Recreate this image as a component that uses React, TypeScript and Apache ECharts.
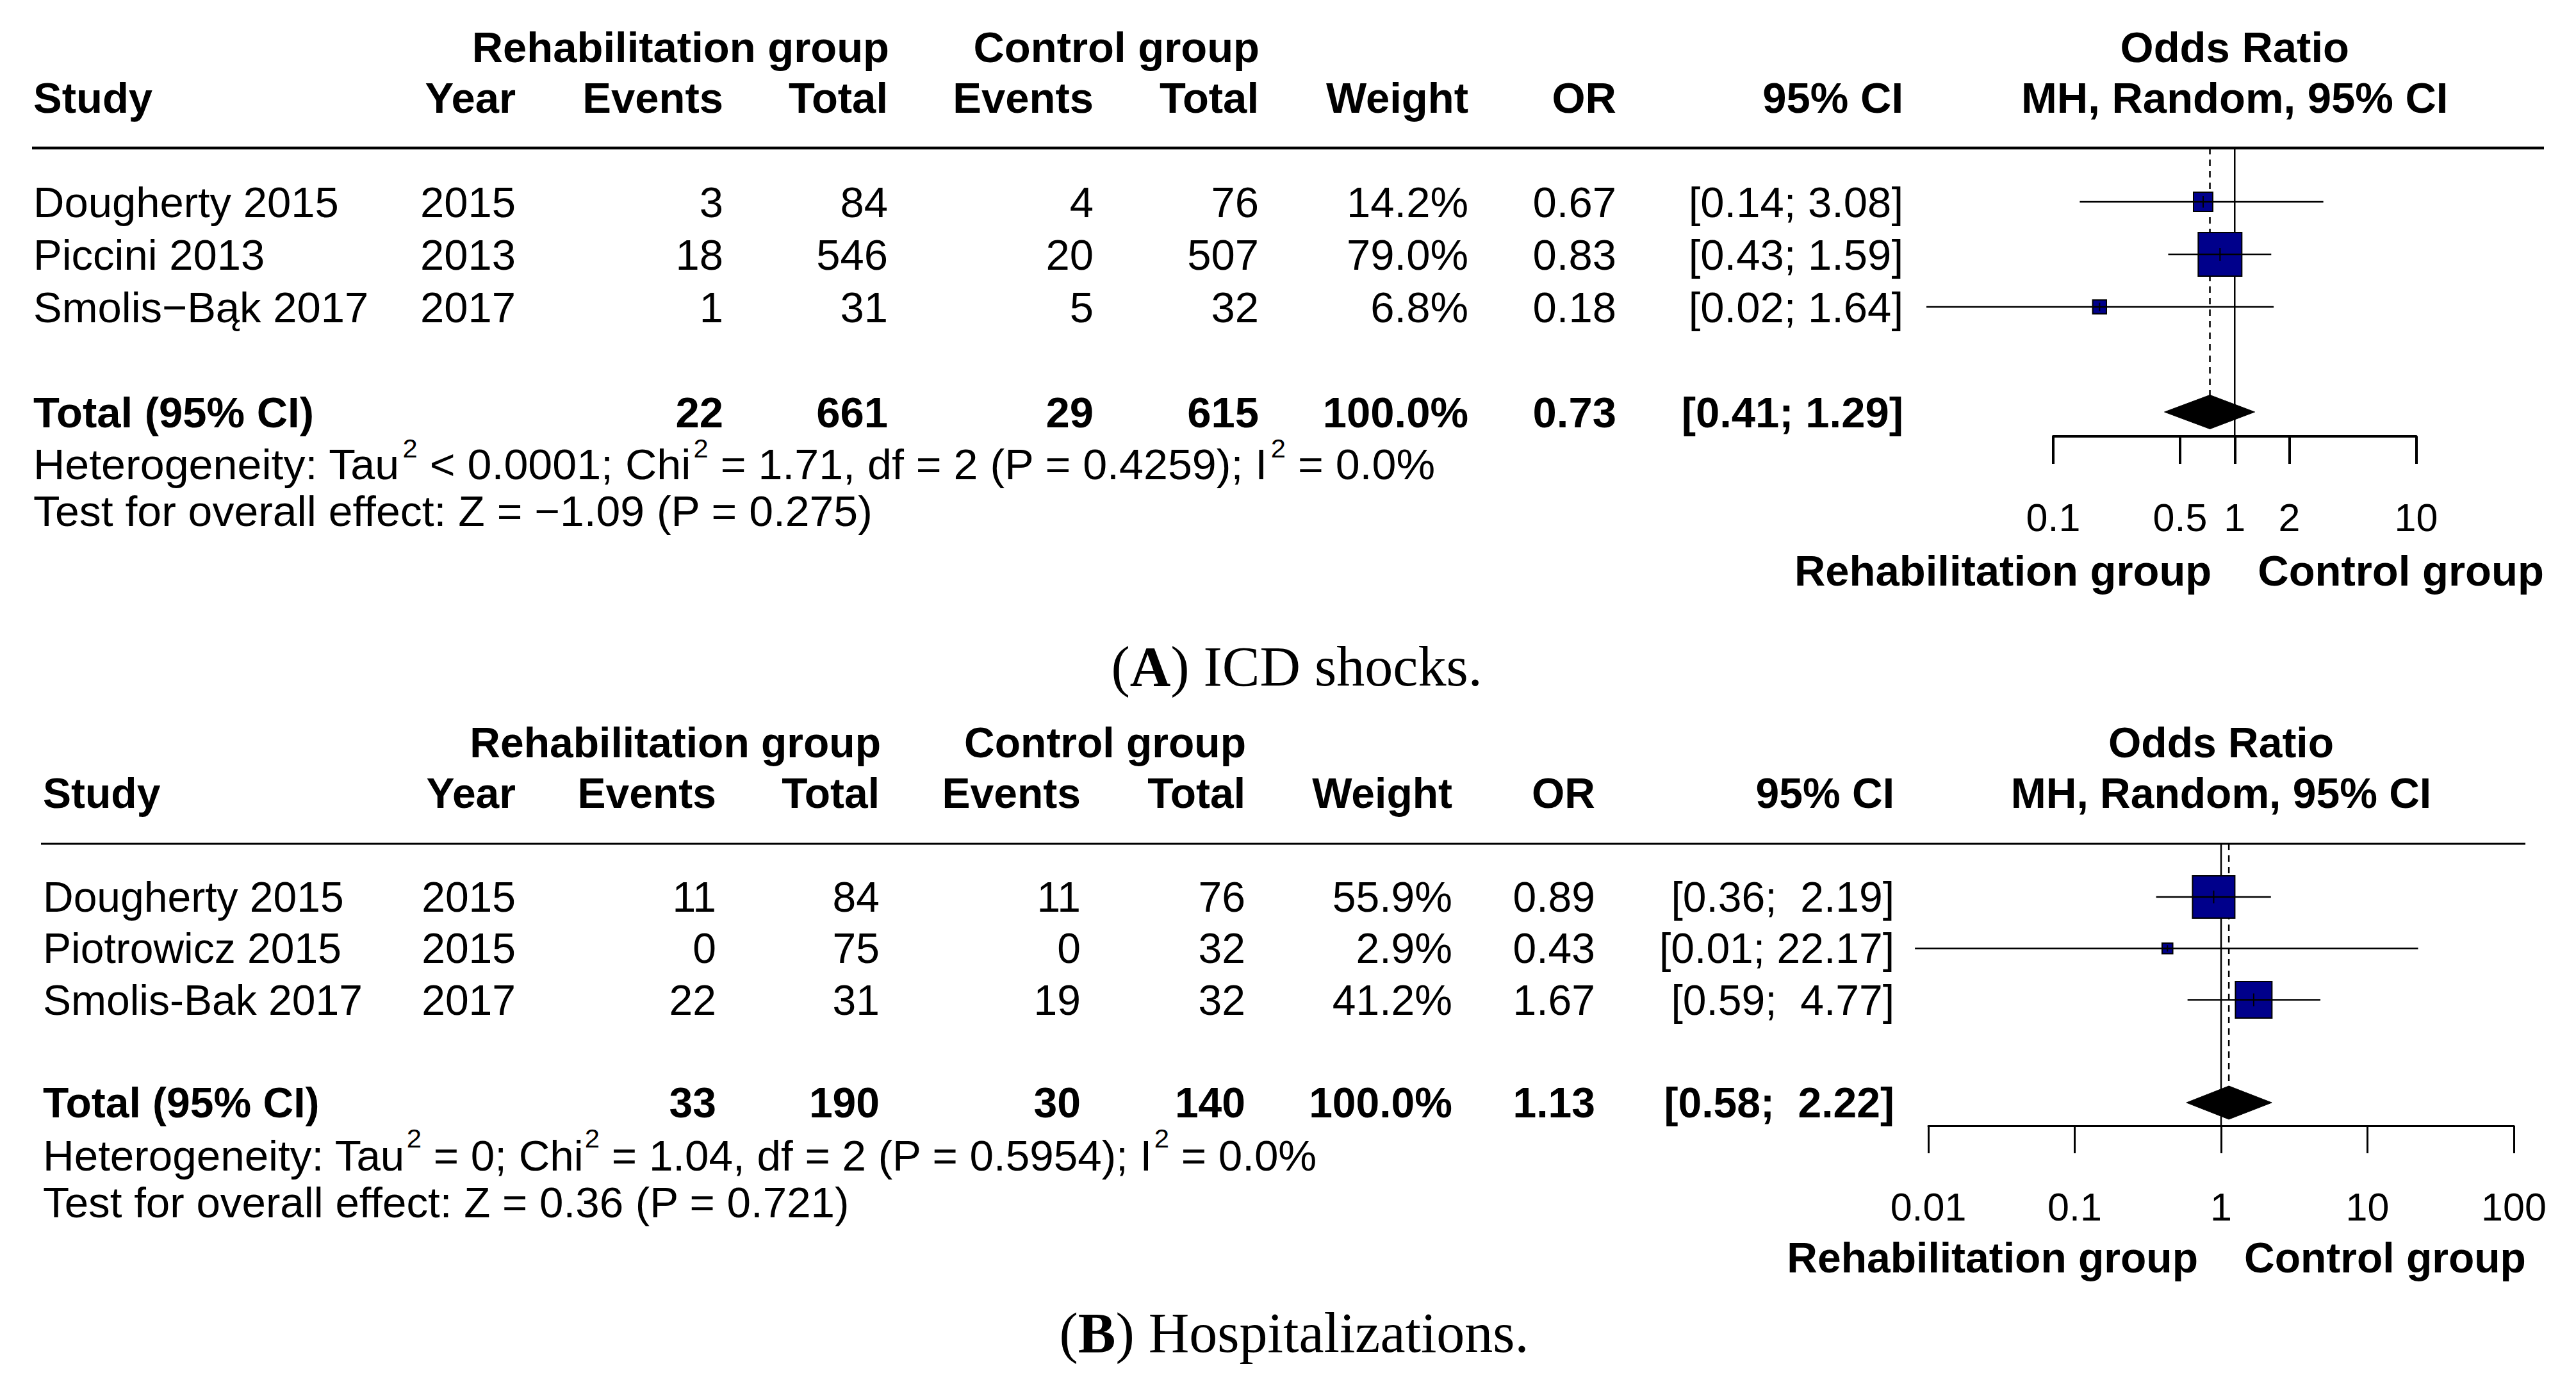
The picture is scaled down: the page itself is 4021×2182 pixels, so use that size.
import React, { useEffect, useRef } from "react";
import * as echarts from "echarts";

const W = 4021;
const H = 2182;
const SANS = "'Liberation Sans', Arial, Helvetica, sans-serif";
const SERIF = "'Liberation Serif', 'Times New Roman', serif";

// ---------------- Panel A: ICD shocks ----------------
const studiesA = ["Dougherty 2015", "Piccini 2013", "Smolis\u2212Bąk 2017"];
const yearsA = [2015, 2013, 2017];
const rehabEventsA = [3, 18, 1];
const rehabTotalA = [84, 546, 31];
const ctrlEventsA = [4, 20, 5];
const ctrlTotalA = [76, 507, 32];
const weightA = [14.2, 79.0, 6.8];
const orA = [0.67, 0.83, 0.18];
const ciLowA = [0.14, 0.43, 0.02];
const ciHighA = [3.08, 1.59, 1.64];
const totalsA = [22, 661, 29, 615];
const pooledA = [0.73, 0.41, 1.29];
const hetA = "Heterogeneity: Tau{s|2} < 0.0001; Chi{s|2} = 1.71, df = 2 (P = 0.4259); I{s|2} = 0.0%";
const testA = "Test for overall effect: Z = \u22121.09 (P = 0.275)";
const ticksA = [0.1, 0.5, 1, 2, 10];
const captionA = ["A", "ICD shocks."];

// ---------------- Panel B: Hospitalizations ----------------
const studiesB = ["Dougherty 2015", "Piotrowicz 2015", "Smolis-Bak 2017"];
const yearsB = [2015, 2015, 2017];
const rehabEventsB = [11, 0, 22];
const rehabTotalB = [84, 75, 31];
const ctrlEventsB = [11, 0, 19];
const ctrlTotalB = [76, 32, 32];
const weightB = [55.9, 2.9, 41.2];
const orB = [0.89, 0.43, 1.67];
const ciLowB = [0.36, 0.0081, 0.59];
const ciHighB = [2.19, 22.17, 4.77];
const totalsB = [33, 190, 30, 140];
const pooledB = [1.13, 0.58, 2.22];
const hetB = "Heterogeneity: Tau{s|2} = 0; Chi{s|2} = 1.04, df = 2 (P = 0.5954); I{s|2} = 0.0%";
const testB = "Test for overall effect: Z = 0.36 (P = 0.721)";
const ticksB = [0.01, 0.1, 1, 10, 100];
const captionB = ["B", "Hospitalizations."];

const headers = ["Year", "Events", "Total", "Events", "Total", "Weight", "OR", "95% CI"];
const ROW_POS = [1, 2, 3];
const TOTAL_POS = 5;

const dataA = {
  studies: studiesA, years: yearsA, re: rehabEventsA, rt: rehabTotalA, ce: ctrlEventsA, ct: ctrlTotalA,
  weight: weightA, or: orA, lo: ciLowA, hi: ciHighA, totals: totalsA, pooled: pooledA,
  het: hetA, test: testA, ticks: ticksA, caption: captionA,
};
const dataB = {
  studies: studiesB, years: yearsB, re: rehabEventsB, rt: rehabTotalB, ce: ctrlEventsB, ct: ctrlTotalB,
  weight: weightB, or: orB, lo: ciLowB, hi: ciHighB, totals: totalsB, pooled: pooledB,
  het: hetB, test: testB, ticks: ticksB, caption: captionB,
};

// ---------------- layout (pixels) ----------------
const layoutA = {
  font: 67, studyX: 52, col: [805, 1129, 1386, 1707, 1965, 2292, 2523, 2971],
  groupY: 73, headY: 152, rowY0: 315, totalY: 643, hetY: 725, testY: 798,
  ruleY: 231, ruleX1: 50, ruleX2: 3971, ruleW: 4.5,
  axisY: 681, plotX1: 3205, plotX2: 3771.5, axisW: 4, tickLabelY: 807, sideY: 890, sideGap: 36,
  captionX: 2024, captionY: 1040, boxMax: 66, diamondH: 53, supH: 30, supPad: 4, lineScale: 1.014,
  hetScale: 1.018,
};
const layoutB = {
  font: 66, studyX: 67, col: [805, 1118, 1373, 1687, 1944, 2267, 2490, 2957],
  groupY: 1159, headY: 1238, rowY0: 1400, totalY: 1721, hetY: 1804, testY: 1877,
  ruleY: 1317, ruleX1: 64, ruleX2: 3942, ruleW: 3,
  axisY: 1757, plotX1: 3010, plotX2: 3924, axisW: 3, tickLabelY: 1883, sideY: 1963, sideGap: 36,
  captionX: 2020, captionY: 2080, boxMax: 64, diamondH: 52, supH: 26, supPad: 2, lineScale: 1.02,
  hetScale: 1.021,
};

function txt(text: string, x: number, y: number, align: string, size: number, bold = false, extra: any = {}) {
  return {
    type: "text",
    x,
    y,
    scaleX: extra.scaleX || 1,
    silent: true,
    style: {
      text,
      fill: "#000",
      fontFamily: extra.family || SANS,
      fontSize: size,
      fontWeight: bold ? "bold" : "normal",
      align,
      verticalAlign: "middle",
      textAlign: align,
      textVerticalAlign: "middle",
      ...(extra.style || {}),
    },
  };
}

function fmtCI(lo: number, hi: number, hiWidth: number) {
  return "[" + lo.toFixed(2) + "; " + hi.toFixed(2).padStart(hiWidth, " ") + "]";
}

function buildPanel(idx: number, P: any, L: any) {
  const lmin = Math.log10(P.ticks[0]);
  const lmax = Math.log10(P.ticks[P.ticks.length - 1]);
  const step = (L.totalY - L.rowY0) / (TOTAL_POS - ROW_POS[0]);
  const yMin = ROW_POS[0] - (L.rowY0 - L.ruleY) / step;
  const yMax = TOTAL_POS + (L.axisY - L.totalY) / step;
  const refX = L.plotX1 + ((0 - lmin) / (lmax - lmin)) * (L.plotX2 - L.plotX1);
  const rowY = (p: number) => L.rowY0 + (p - ROW_POS[0]) * step;
  const F = L.font;

  const hiWidth = Math.max(...P.hi.map((v: number) => v.toFixed(2).length), P.pooled[2].toFixed(2).length);

  const g: any[] = [];
  // group headers
  g.push(txt("Rehabilitation group", L.col[2] + 2, L.groupY, "right", F, true));
  g.push(txt("Control group", L.col[4] + 1, L.groupY, "right", F, true));
  g.push(txt("Odds Ratio", refX, L.groupY, "center", F, true));
  // column headers
  g.push(txt("Study", L.studyX, L.headY, "left", F, true));
  headers.forEach((h, i) => g.push(txt(h, L.col[i], L.headY, "right", F, true)));
  g.push(txt("MH, Random, 95% CI", refX, L.headY, "center", F, true));
  // rule
  g.push({
    type: "line",
    silent: true,
    shape: { x1: L.ruleX1, y1: L.ruleY, x2: L.ruleX2, y2: L.ruleY },
    style: { stroke: "#000", lineWidth: L.ruleW },
  });
  // study rows
  P.studies.forEach((s: string, i: number) => {
    const y = rowY(ROW_POS[i]);
    const cells = [
      String(P.years[i]), String(P.re[i]), String(P.rt[i]), String(P.ce[i]), String(P.ct[i]),
      P.weight[i].toFixed(1) + "%", P.or[i].toFixed(2), fmtCI(P.lo[i], P.hi[i], hiWidth),
    ];
    g.push(txt(s, L.studyX, y, "left", F));
    cells.forEach((c, j) => g.push(txt(c, L.col[j], y, "right", F)));
  });
  // total row
  const ty = rowY(TOTAL_POS);
  g.push(txt("Total (95% CI)", L.studyX, ty, "left", F, true));
  const tcells = [
    String(P.totals[0]), String(P.totals[1]), String(P.totals[2]), String(P.totals[3]),
    "100.0%", P.pooled[0].toFixed(2), fmtCI(P.pooled[1], P.pooled[2], hiWidth),
  ];
  tcells.forEach((c, j) => g.push(txt(c, L.col[j + 1], ty, "right", F, true)));
  // heterogeneity & test
  g.push(
    txt(P.het, L.studyX, L.hetY, "left", F, false, {
      scaleX: L.hetScale,
      style: {
        lineHeight: 80,
        rich: {
          s: {
            fontFamily: SANS,
            fontSize: 41,
            fill: "#000",
            verticalAlign: "top",
            height: L.supH,
            lineHeight: L.supH,
            padding: [0, 0, 0, L.supPad],
          },
        },
      },
    })
  );
  g.push(txt(P.test, L.studyX, L.testY, "left", F, false, { scaleX: L.lineScale }));
  // side labels
  g.push(txt("Rehabilitation group", refX - L.sideGap, L.sideY, "right", F, true));
  g.push(txt("Control group", refX + L.sideGap, L.sideY, "left", F, true));
  // caption
  g.push(
    txt("(" + "{b|" + P.caption[0] + "}) " + P.caption[1], L.captionX, L.captionY, "center", 88, false, {
      family: SERIF,
      style: { rich: { b: { fontFamily: SERIF, fontSize: 88, fontWeight: "bold", fill: "#000" } } },
    })
  );

  const grid = {
    left: L.plotX1,
    top: L.ruleY,
    width: L.plotX2 - L.plotX1,
    height: L.axisY - L.ruleY,
    containLabel: false,
    outerBoundsMode: "none",
  };
  const tickLogs = P.ticks.map((t: number) => Math.log10(t));
  const xAxis = {
    gridIndex: idx,
    type: "value",
    position: "bottom",
    min: lmin,
    max: lmax,
    axisLine: { show: true, onZero: false, lineStyle: { color: "#000", width: L.axisW } },
    axisTick: { show: true, inside: false, length: 43, customValues: tickLogs, lineStyle: { color: "#000", width: L.axisW } },
    axisLabel: {
      show: true,
      customValues: tickLogs,
      margin: L.tickLabelY - L.axisY - 30,
      color: "#000",
      fontFamily: SANS,
      fontSize: 61,
      lineHeight: 61,
      formatter: (v: number) => String(parseFloat(Math.pow(10, v).toPrecision(3))),
    },
    splitLine: { show: false },
  };
  const yAxis = { gridIndex: idx, type: "value", inverse: true, min: yMin, max: yMax, show: false };

  const wmax = Math.max(...P.weight);
  const series = [
    {
      type: "custom",
      xAxisIndex: idx,
      yAxisIndex: idx,
      clip: false,
      z: 1,
      silent: true,
      data: [
        [0, yMin, yMax, 0],
        [Math.log10(P.pooled[0]), yMin, TOTAL_POS, 1],
      ],
      encode: { x: 0, y: 1 },
      renderItem: (params: any, api: any) => {
        const a = api.coord([api.value(0), api.value(1)]);
        const b = api.coord([api.value(0), api.value(2)]);
        const dashed = api.value(3) === 1;
        return {
          type: "line",
          shape: { x1: a[0], y1: a[1], x2: b[0], y2: b[1] },
          style: { stroke: "#000", lineWidth: 2.5, lineDash: dashed ? [10, 8] : undefined },
        };
      },
    },
    {
      type: "custom",
      xAxisIndex: idx,
      yAxisIndex: idx,
      clip: false,
      z: 2,
      silent: true,
      data: P.studies.map((_: string, i: number) => [
        Math.log10(P.or[i]), Math.log10(P.lo[i]), Math.log10(P.hi[i]), ROW_POS[i], P.weight[i],
      ]),
      encode: { x: 0, y: 3 },
      renderItem: (params: any, api: any) => {
        const row = api.value(3);
        const c = api.coord([api.value(0), row]);
        const cl = api.coord([api.value(1), row]);
        const ch = api.coord([api.value(2), row]);
        const s = L.boxMax * Math.sqrt(api.value(4) / wmax) + 2;
        const t = Math.min(20, s * 0.6);
        return {
          type: "group",
          children: [
            {
              type: "rect",
              shape: { x: c[0] - s / 2, y: c[1] - s / 2, width: s, height: s },
              style: { fill: "#00008B", stroke: "#000", lineWidth: 2 },
            },
            {
              type: "line",
              shape: { x1: cl[0], y1: c[1], x2: ch[0], y2: c[1] },
              style: { stroke: "#000", lineWidth: 2.5 },
            },
            {
              type: "line",
              shape: { x1: c[0], y1: c[1] - t / 2, x2: c[0], y2: c[1] + t / 2 },
              style: { stroke: "#000", lineWidth: 2 },
            },
          ],
        };
      },
    },
    {
      type: "custom",
      xAxisIndex: idx,
      yAxisIndex: idx,
      clip: false,
      z: 3,
      silent: true,
      data: [[Math.log10(P.pooled[0]), Math.log10(P.pooled[1]), Math.log10(P.pooled[2]), TOTAL_POS]],
      encode: { x: 0, y: 3 },
      renderItem: (params: any, api: any) => {
        const row = api.value(3);
        const c = api.coord([api.value(0), row]);
        const l = api.coord([api.value(1), row]);
        const r = api.coord([api.value(2), row]);
        const h = L.diamondH / 2;
        return {
          type: "polygon",
          shape: { points: [[l[0], c[1]], [c[0], c[1] - h], [r[0], c[1]], [c[0], c[1] + h]] },
          style: { fill: "#000", stroke: "#000", lineWidth: 1 },
        };
      },
    },
  ];
  return { graphic: g, grid, xAxis, yAxis, series };
}

export default function App() {
  const ref = useRef<HTMLDivElement>(null);
  useEffect(() => {
    document.body.style.margin = "0";
    document.body.style.background = "#fff";
    if (!ref.current) return;
    const chart = echarts.init(ref.current, null, { renderer: "svg", width: W, height: H });
    const a = buildPanel(0, dataA, layoutA);
    const b = buildPanel(1, dataB, layoutB);
    chart.setOption({
      animation: false,
      backgroundColor: "#fff",
      grid: [a.grid, b.grid],
      xAxis: [a.xAxis, b.xAxis],
      yAxis: [a.yAxis, b.yAxis],
      series: [...a.series, ...b.series],
      graphic: { elements: [...a.graphic, ...b.graphic] },
    });
    return () => chart.dispose();
  }, []);
  return <div ref={ref} style={{ width: W, height: H, background: "#fff" }} />;
}
